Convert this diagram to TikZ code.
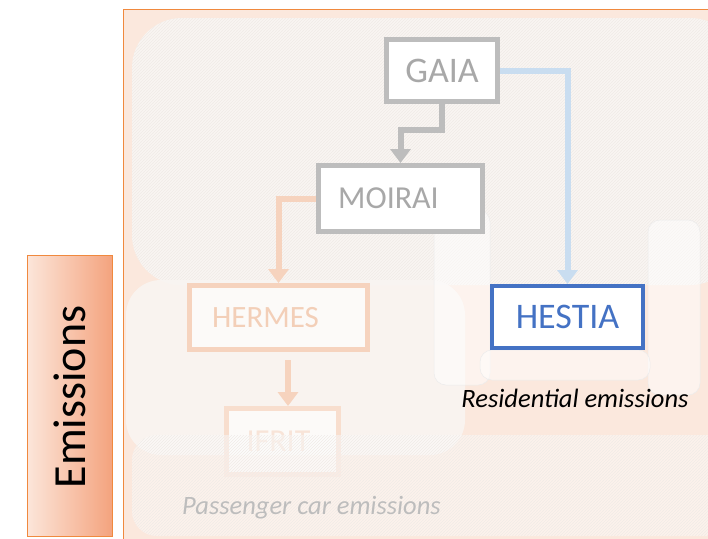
\documentclass[tikz,border=0pt]{standalone}
\usepackage{fontspec}
\setmainfont{Carlito}
\usetikzlibrary{arrows.meta,patterns}

\definecolor{panelfill}{HTML}{FBE8DD}
\definecolor{paneledge}{HTML}{F0893E}
\definecolor{mistfill}{HTML}{F9F5F2}
\definecolor{hatchline}{HTML}{F0EBE7}
\definecolor{modelgray}{HTML}{BDBDBD}
\definecolor{modeltext}{HTML}{A8A8A8}
\definecolor{peachline}{HTML}{F6D3BE}
\definecolor{peachtext}{HTML}{F3CFB8}
\definecolor{skyline}{HTML}{C9DDF0}
\definecolor{hestiablue}{HTML}{4472C4}
\definecolor{salmon}{HTML}{F4A37E}
\definecolor{blush}{HTML}{FCE6DA}

\begin{document}
\begin{tikzpicture}[x=1pt,y=-1pt,
  model/.style={draw,line width=5pt,fill=white,inner sep=0pt,
    font=\fontsize{36}{40}\selectfont},
  link/.style={line width=6pt,-{Triangle[width=20pt,length=14pt]}},
  hatch/.style={pattern=north east lines,pattern color=hatchline},
  ghost/.style={fill=white,fill opacity=0.5,draw=gray!15,line width=0.5pt}]
\useasboundingbox (0,0) rectangle (708,538);
\clip (0,0) rectangle (708,538);

\draw[paneledge,fill=panelfill,line width=1pt] (123,9) rectangle (730,560);

\draw[paneledge,line width=1pt,left color=blush,right color=salmon]
  (27,255) rectangle (112,536);
\node[rotate=90,font=\fontsize{46}{50}\selectfont] (emis) at (70,397) {Emissions};

\fill[mistfill,rounded corners=50pt] (132,18) rectangle (740,285);
\fill[hatch,rounded corners=50pt] (132,18) rectangle (740,285);
\fill[mistfill,fill opacity=0.9,rounded corners=35pt] (126,280) rectangle (465,455);

\draw[ghost,rounded corners=12pt] (434,210) rectangle (490,385);
\draw[ghost,rounded corners=12pt] (648,220) rectangle (700,395);
\draw[ghost,rounded corners=12pt] (480,350) rectangle (650,380);

\node[model,draw=modelgray,text=modeltext,minimum width=111pt,minimum height=62pt]
  (gaia) at (442,70.5) {GAIA};
\node[model,draw=modelgray,text=modeltext,minimum width=164pt,minimum height=66pt,
  font=\fontsize{32}{36}\selectfont]
  (moirai) at (400.5,198.5) {MOIRAI\hspace*{24pt}};
\node[model,draw=peachline,text=peachtext,fill opacity=0.6,text opacity=1,
  minimum width=178pt,minimum height=64pt,font=\fontsize{31}{35}\selectfont]
  (hermes) at (278.5,317.5) {HERMES\hspace*{26pt}};
\node[model,draw=peachline!75,text=peachtext!55,fill opacity=0.6,text opacity=1,
  minimum width=112pt,minimum height=66pt,font=\fontsize{32}{36}\selectfont]
  (ifrit) at (282.5,441.5) {IFRIT\hspace*{8pt}};
\node[model,draw=hestiablue,text=hestiablue,line width=4pt,
  minimum width=151pt,minimum height=62pt]
  (hestia) at (567.5,317) {HESTIA};

\draw[link,modelgray] (gaia.south) -- ++(0,26) -| (moirai.north);
\draw[link,skyline] (gaia.east) -| (hestia.north);
\draw[link,peachline] (moirai.west) -| (hermes.north);
\draw[link,peachline,shorten <=8pt] (hermes.south -| 288,0) -- (288,406);

\fill[white,fill opacity=0.45,rounded corners=25pt] (132,435) rectangle (740,536);
\fill[hatch,rounded corners=25pt] (132,435) rectangle (740,536);

\node[font=\fontsize{26.5}{30}\selectfont\itshape] (resid) at (575,398)
  {Residential emissions};
\node[font=\fontsize{26.5}{30}\selectfont\itshape,text=modelgray] (cars) at (311.5,508)
  {Passenger car emissions};
\end{tikzpicture}
\end{document}
